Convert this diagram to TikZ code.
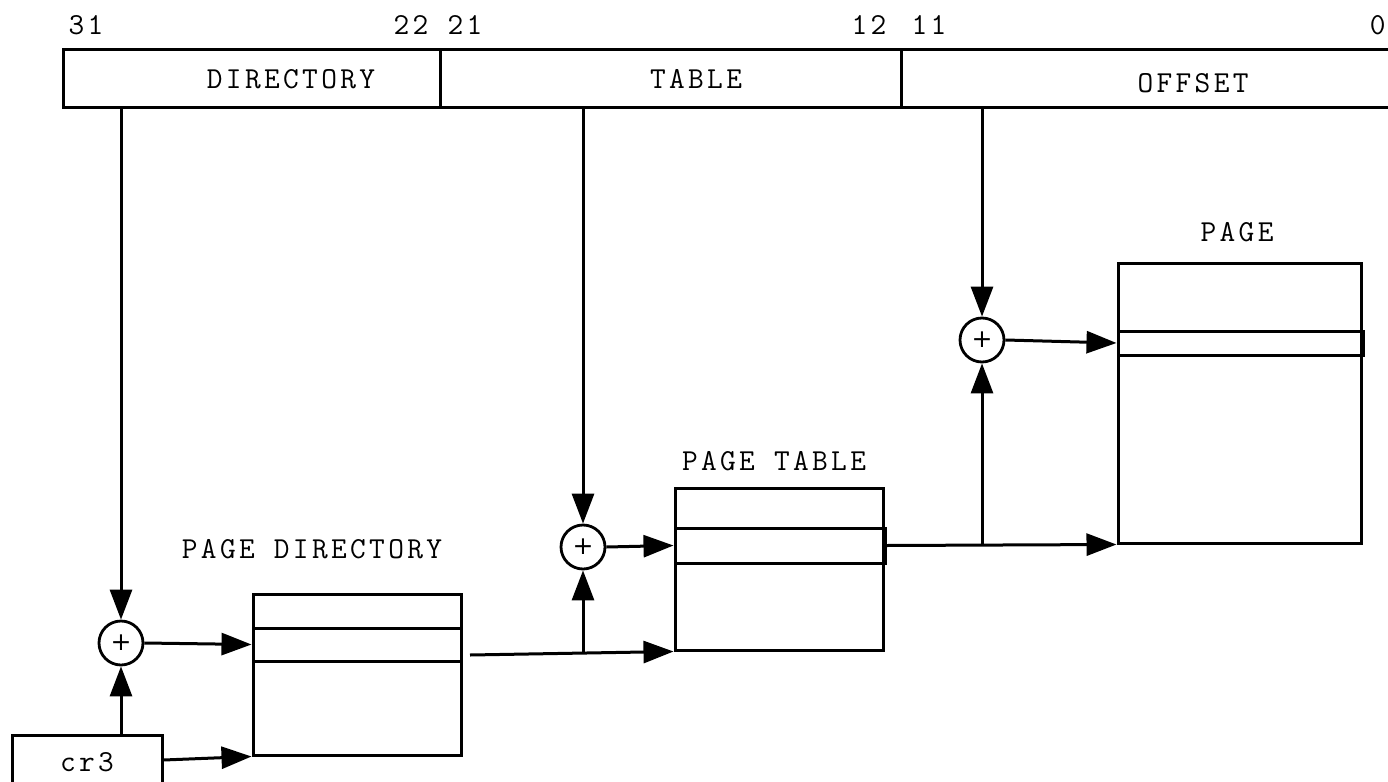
\documentclass[tikz,border=0pt]{standalone}
\usepackage{fontspec}
\usetikzlibrary{arrows.meta}
\newfontfamily\diagfont[LetterSpace=11]{Latin Modern Mono}
\newfontfamily\plusfont{DejaVu Sans}
\begin{document}
\begin{tikzpicture}[x=1pt,y=-1pt, line width=3pt,
  lbl/.style={font=\diagfont\fontsize{30.5}{36}\selectfont, inner sep=0pt},
  field/.style={draw, rectangle, minimum height=58pt, inner sep=0pt},
  adder/.style={draw, circle, minimum size=44pt, inner sep=0pt, line width=2.8pt, font=\plusfont\fontsize{25}{28}\selectfont},
  memblock/.style={draw, rectangle, inner sep=0pt},
  arr/.style={-{Triangle[length=30pt,width=22pt]}}
]
\useasboundingbox (0,0) rectangle (1388,781);
\clip (0,0) rectangle (1388,781);
\fill[white] (0,0) rectangle (1388,781);

% linear address fields
\node[field, minimum width=377pt] (dir) at (251.5,79) {};
\node[field, minimum width=461pt] (tab) at (670.5,79) {};
\node[field, minimum width=578pt] (off) at (1190,79) {};
\node[lbl] (dirt) at (291,79) {DIRECTORY};
\node[lbl] (tabt) at (696,79) {TABLE};
\node[lbl] (offt) at (1193,83) {OFFSET};

% bit numbers
\node[lbl] (b31) at (86,25) {31};
\node[lbl] (b22) at (411,25) {22};
\node[lbl] (b21) at (465,25) {21};
\node[lbl] (b12) at (869,25) {12};
\node[lbl] (b11) at (929,25) {11};
\node[lbl, anchor=east] (b0) at (1387,25) {0};

% adders
\node[adder] (c1) at (121,643) {+};
\node[adder] (c2) at (583,547) {+};
\node[adder] (c3) at (982,340) {+};

% page directory
\node[memblock, minimum width=208pt, minimum height=161pt] (pd) at (357,674.5) {};
\node[memblock, minimum width=208pt, minimum height=33pt] (pde) at (357,644.5) {};
\node[lbl] (pdt) at (312,549) {PAGE DIRECTORY};

% page table
\node[memblock, minimum width=208pt, minimum height=162pt] (pt) at (779,569) {};
\node[memblock, minimum width=210pt, minimum height=35pt] (pte) at (780,545.5) {};
\node[lbl] (ptt) at (774,461) {PAGE TABLE};

% page
\node[memblock, minimum width=243pt, minimum height=280pt] (pg) at (1239.5,403) {};
\node[memblock, minimum width=245pt, minimum height=24pt] (pge) at (1240.5,343) {};
\node[lbl] (pgt) at (1237,232) {PAGE};

% cr3
\node[memblock, minimum width=150pt, minimum height=50pt] (cr3) at (87,760) {};
\node[lbl] (cr3t) at (87,762) {cr3};

% connectors
\coordinate (pdo) at (470,655);
\draw[arr] (c1 |- dir.south) -- (c1.north);
\draw[arr] (c1.east) -- (pde.west);
\draw[arr] (c1 |- cr3.north) -- (c1.south);
\draw[arr] (cr3.east) -- (pd.south west);

\draw[arr] (pdo) -- (pt.south west);
\draw[arr] (c2 |- pt.south west) -- (c2.south);
\draw[arr] (c2 |- tab.south) -- (c2.north);
\draw[arr] (c2.east) -- (pte.west);

\draw[arr] (pte.east) -- (pg.south west);
\draw[arr] (c3 |- pg.south west) -- (c3.south);
\draw[arr] (c3 |- off.south) -- (c3.north);
\draw[arr] (c3.east) -- (pge.west);
\end{tikzpicture}
\end{document}
